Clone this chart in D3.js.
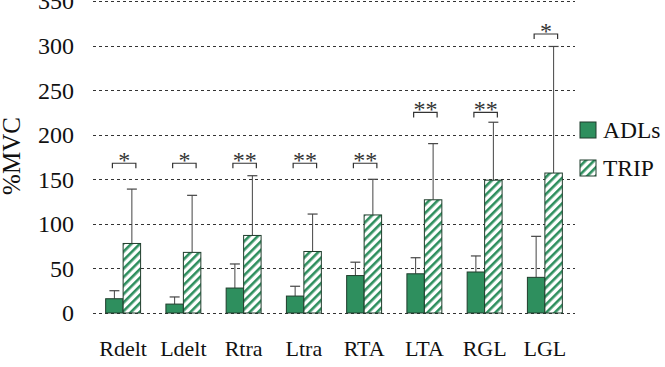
<!DOCTYPE html>
<html>
<head>
<meta charset="utf-8">
<script src="https://cdn.jsdelivr.net/npm/d3@7"></script>
<style>
  body { margin: 0; background: #fff; }
  svg text { font-family: "Liberation Serif", "Times New Roman", serif; }
</style>
</head>
<body>
<svg id="chart" width="665" height="367"></svg>
<script>
const categories = ["Rdelt", "Ldelt", "Rtra", "Ltra", "RTA", "LTA", "RGL", "LGL"];
const adl = [16, 10, 28, 19, 42, 44, 46, 40];
const adlErr = [9, 8, 27, 11, 15, 18, 18, 46];
const trip = [78, 68, 87, 69, 110, 127, 149, 157];
const tripErr = [61, 64, 67, 42, 40, 63, 65, 142];
const stars = ["*", "*", "**", "**", "**", "**", "**", "*"];
const bracketAt = [168, 168, 168, 168, 168, 225, 225, 313];
const yTicks = [0, 50, 100, 150, 200, 250, 300, 350];

const width = 665, height = 367;
const m = { left: 93, right: 90, top: 1, bottom: 54 };

const svg = d3.select("#chart");

const x = d3.scaleBand()
  .domain(categories)
  .range([m.left, width - m.right])
  .paddingInner(0.42)
  .paddingOuter(0.21);

const y = d3.scaleLinear()
  .domain([0, 350])
  .range([height - m.bottom, m.top]);

const green = "#2e8f5e";
const edge = "#1f3d2c";

// hatch pattern
const pat = svg.append("defs").append("pattern")
  .attr("id", "hatch")
  .attr("patternUnits", "userSpaceOnUse")
  .attr("width", 6)
  .attr("height", 6)
  .attr("patternTransform", "rotate(45)");
pat.append("rect").attr("width", 6).attr("height", 6).attr("fill", "#fff");
pat.append("rect").attr("x", 0).attr("width", 2.6).attr("height", 6).attr("fill", green);

// grid
svg.append("g")
  .selectAll("line")
  .data(yTicks)
  .join("line")
  .attr("x1", m.left)
  .attr("x2", width - m.right)
  .attr("y1", d => Math.round(y(d)) + 0.5)
  .attr("y2", d => Math.round(y(d)) + 0.5)
  .attr("stroke", "#333")
  .attr("stroke-width", 1)
  .attr("stroke-dasharray", "3,3");

// y axis labels
svg.append("g")
  .selectAll("text")
  .data(yTicks)
  .join("text")
  .attr("x", 74)
  .attr("y", d => y(d))
  .attr("dy", "0.35em")
  .attr("text-anchor", "end")
  .attr("font-size", 24)
  .attr("fill", "#111")
  .text(d => d);

svg.append("text")
  .attr("transform", `translate(20,156) rotate(-90)`)
  .attr("text-anchor", "middle")
  .attr("font-size", 25)
  .attr("fill", "#111")
  .text("%MVC");

// x labels
svg.append("g")
  .selectAll("text")
  .data(categories)
  .join("text")
  .attr("x", d => x(d) + x.bandwidth() / 2)
  .attr("y", 356)
  .attr("text-anchor", "middle")
  .attr("font-size", 22)
  .attr("fill", "#111")
  .text(d => d);

const bw = x.bandwidth() / 2;

const groups = svg.append("g")
  .selectAll("g")
  .data(categories.map((c, i) => ({
    c, adl: adl[i], adlErr: adlErr[i], trip: trip[i], tripErr: tripErr[i],
    star: stars[i], br: bracketAt[i]
  })))
  .join("g");

// error bars, upward only
function errBar(sel, cx, top, err) {
  sel.append("line")
    .attr("x1", cx).attr("x2", cx)
    .attr("y1", y(top)).attr("y2", y(top + err))
    .attr("stroke", "#444").attr("stroke-width", 1);
  sel.append("line")
    .attr("x1", cx - 5).attr("x2", cx + 5)
    .attr("y1", y(top + err)).attr("y2", y(top + err))
    .attr("stroke", "#444").attr("stroke-width", 1.2);
}

groups.each(function(d) {
  const g = d3.select(this);
  const x0 = x(d.c);
  errBar(g, x0 + bw / 2, d.adl, d.adlErr);
  errBar(g, x0 + bw * 1.5, d.trip, d.tripErr);

  g.append("rect")
    .attr("x", x0)
    .attr("y", y(d.adl))
    .attr("width", bw)
    .attr("height", y(0) - y(d.adl))
    .attr("fill", green)
    .attr("stroke", edge)
    .attr("stroke-width", 1);

  g.append("rect")
    .attr("x", x0 + bw)
    .attr("y", y(d.trip))
    .attr("width", bw)
    .attr("height", y(0) - y(d.trip))
    .attr("fill", "url(#hatch)")
    .attr("stroke", edge)
    .attr("stroke-width", 1);

  // significance bracket
  const bx1 = x0 + bw / 2 - 2, bx2 = x0 + bw * 1.5 + 4;
  const by = y(d.br);
  g.append("path")
    .attr("d", `M${bx1},${by + 5}V${by}H${bx2}V${by + 5}`)
    .attr("fill", "none")
    .attr("stroke", "#333")
    .attr("stroke-width", 1.2);
  g.append("text")
    .attr("x", (bx1 + bx2) / 2)
    .attr("y", by + 5)
    .attr("text-anchor", "middle")
    .attr("font-size", 24)
    .attr("fill", "#333")
    .text(d.star);
});

// legend
const lg = svg.append("g").attr("transform", "translate(580,122)");
lg.append("rect").attr("width", 16).attr("height", 16)
  .attr("fill", green).attr("stroke", edge);
lg.append("text").attr("x", 23).attr("y", 8).attr("dy", "0.35em")
  .attr("font-size", 23.5).attr("fill", "#111").text("ADLs");
lg.append("rect").attr("y", 38).attr("width", 16).attr("height", 16)
  .attr("fill", "url(#hatch)").attr("stroke", edge);
lg.append("text").attr("x", 23).attr("y", 46).attr("dy", "0.35em")
  .attr("font-size", 23.5).attr("fill", "#111").text("TRIP");
</script>
</body>
</html>
